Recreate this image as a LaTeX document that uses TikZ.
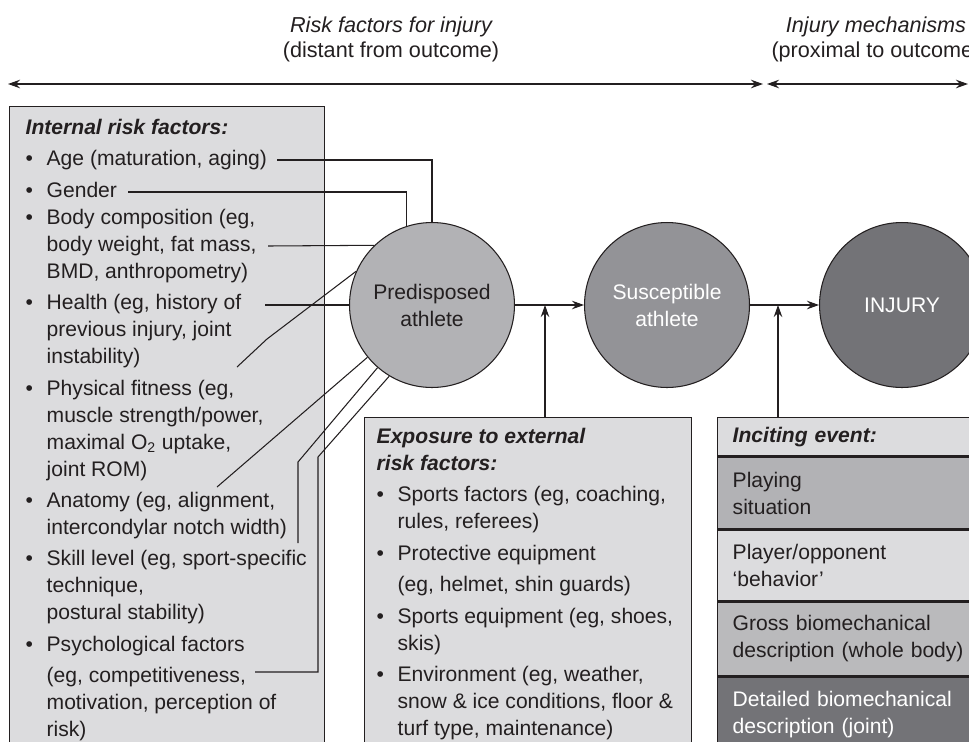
\documentclass[tikz,border=0pt]{standalone}
\usepackage{fontspec}
\setmainfont{Liberation Sans}
\usepackage{xcolor}
\usepackage{tikz}
\usetikzlibrary{positioning,shapes,arrows.meta,calc}

\definecolor{panelgray}{HTML}{DCDCDE}
\definecolor{predgray}{HTML}{B2B2B5}
\definecolor{suscgray}{HTML}{939397}
\definecolor{injgray}{HTML}{737377}
\definecolor{inkgray}{HTML}{231F20}

\newcommand{\bodysize}{\fontsize{12pt}{15.37pt}\selectfont}
\newcommand{\topsize}{\fontsize{12.3pt}{15pt}\selectfont}
\newcommand{\bul}{\makebox[0.42cm][l]{\textbullet}}
\newcommand{\ind}{\hspace*{0.42cm}}
\newlength{\itemgap}
\setlength{\itemgap}{0.088cm}

\begin{document}
\begin{tikzpicture}[x=0.02cm, y=-0.02cm, >={Stealth[length=0.24cm,width=0.17cm]},
    every node/.style={font=\bodysize, text=inkgray},
    athlete/.style={draw=inkgray, circle, minimum size=3.3cm, inner sep=0pt, align=center, line width=0.6pt},
    panel/.style={draw=inkgray, fill=panelgray, rectangle, line width=0.8pt, anchor=north west},
    eventrow/.style={draw=inkgray, rectangle, text width=4.8cm, inner xsep=0.3cm, align=left, line width=0.8pt},
    link/.style={draw=inkgray, line width=0.6pt}]
    \useasboundingbox (0,0) rectangle (969,741);
    % headings and time axis
    \node[anchor=base, font=\topsize] (riskhead) at (391,32) {\itshape Risk factors for injury};
    \node[anchor=base, font=\topsize] (risksub) at (391,57) {(distant from outcome)};
    \node[anchor=base, font=\topsize] (mechhead) at (876,32) {\itshape Injury mechanisms};
    \node[anchor=base, font=\topsize] (mechsub) at (876,57) {(proximal to outcome)};
    \coordinate (riskL) at (8,84);
    \coordinate (riskR) at (763,84);
    \coordinate (mechL) at (767,84);
    \coordinate (mechR) at (968,84);
    \draw[<->, link, line width=0.7pt] (riskL) -- (riskR);
    \draw[<->, link, line width=0.7pt] (mechL) -- (mechR);
    % athlete states
    \node[athlete, fill=predgray] (pred) at (432,305) {Predisposed\\athlete};
    \node[athlete, fill=suscgray, text=white, right=1.38cm of pred] (susc) {Susceptible\\athlete};
    \node[athlete, fill=injgray, text=white, right=1.38cm of susc] (injury) {INJURY};
    \draw[->, link] (pred) -- (susc);
    \draw[->, link] (susc) -- (injury);
    % internal risk factors
    \node[panel, inner xsep=0.32cm, inner ysep=0.25cm] (internal) at (9,106) {\parbox[t][13cm][t]{5.66cm}{%
        \textbf{\textit{Internal risk factors:}}\\[\itemgap]
        \bul Age (maturation, aging)\\[\itemgap]
        \bul Gender\\
        \bul Body composition (eg,\\
        \ind body weight, fat mass,\\
        \ind BMD, anthropometry)\\[\itemgap]
        \bul Health (eg, history of\\
        \ind previous injury, joint\\
        \ind instability)\\[\itemgap]
        \bul Physical fitness (eg,\\
        \ind muscle strength/power,\\
        \ind maximal O\textsubscript{2} uptake,\\
        \ind joint ROM)\\[\itemgap]
        \bul Anatomy (eg, alignment,\\
        \ind intercondylar notch width)\\[\itemgap]
        \bul Skill level (eg, sport-specific\\
        \ind technique,\\
        \ind postural stability)\\[\itemgap]
        \bul Psychological factors\\[\itemgap]
        \ind (eg, competitiveness,\\
        \ind motivation, perception of\\
        \ind risk)}};
    % exposure to external risk factors
    \node[panel, inner xsep=0.24cm, inner ysep=0.21cm] (external) at (364,417) {\parbox[t][7cm][t]{6.06cm}{%
        \textbf{\textit{Exposure to external}}\\
        \textbf{\textit{risk factors:}}\\[\itemgap]
        \bul Sports factors (eg, coaching,\\
        \ind rules, referees)\\[\itemgap]
        \bul Protective equipment\\[\itemgap]
        \ind (eg, helmet, shin guards)\\[\itemgap]
        \bul Sports equipment (eg, shoes,\\
        \ind skis)\\[\itemgap]
        \bul Environment (eg, weather,\\
        \ind snow \& ice conditions, floor \&\\
        \ind turf type, maintenance)}};
    % inciting event
    \node[eventrow, fill=panelgray, anchor=north west, minimum height=0.76cm] (incite) at (717,417) {\textbf{\textit{Inciting event:}}};
    \node[eventrow, fill=predgray, below=0pt of incite, minimum height=1.44cm] (playing) {Playing\\situation};
    \node[eventrow, fill=panelgray, below=0pt of playing, minimum height=1.4cm] (behavior) {Player/opponent\\`behavior'};
    \node[eventrow, fill=predgray!90!white, below=0pt of behavior, minimum height=1.48cm] (gross) {Gross biomechanical\\description (whole body)};
    \node[eventrow, fill=injgray, text=white, below=0pt of gross, minimum height=1.5cm] (detailed) {Detailed biomechanical\\description (joint)};
    % arrows into the chain
    \coordinate (expjoin) at (545,305);
    \coordinate (incjoin) at (778,305);
    \draw[->, link] (external.north -| expjoin) -- (expjoin);
    \draw[->, link] (incite.north -| incjoin) -- (incjoin);
    % internal factors to predisposed athlete
    \coordinate (agept) at (277,160);
    \coordinate (genderpt) at (128,192);
    \coordinate (bodypt) at (268,246);
    \coordinate (healthpt) at (265,305);
    \coordinate (instabpt) at (237,367);
    \coordinate (fitnesspt) at (217,487);
    \coordinate (anatomypt) at (298,543);
    \coordinate (psychpt) at (255,672);
    \draw[link] (agept) -| (pred);
    \draw[link] (genderpt) -| (pred.108);
    \draw[link] (bodypt) -- (pred.134);
    \draw[link] (healthpt) -- (pred);
    \draw[link] (instabpt) -- (267,339) -- (pred.156);
    \draw[link] (fitnesspt) -- (pred.219);
    \draw[link] (anatomypt) -- (298,462) -- (pred.229);
    \draw[link] (psychpt) -- (318,672) -- (318,457) -- (pred.239);
\end{tikzpicture}
\end{document}
